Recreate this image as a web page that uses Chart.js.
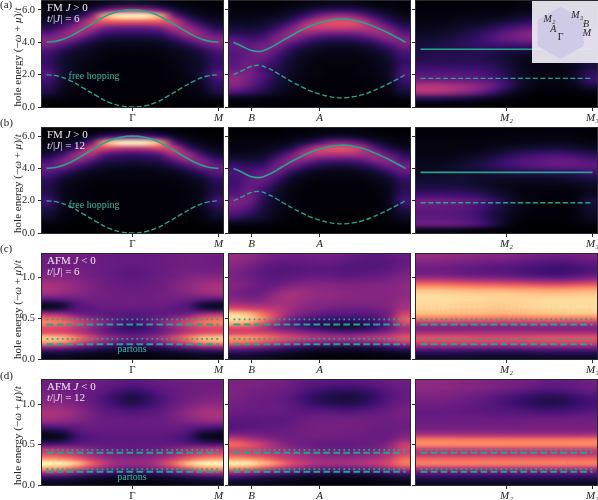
<!DOCTYPE html>
<html>
<head>
<meta charset="utf-8">
<style>
  html, body { margin: 0; padding: 0; background: #fff; }
  #fig { position: relative; width: 598px; height: 500px; overflow: hidden; }
  #fig canvas { position: absolute; }
</style>
<script src="https://cdn.jsdelivr.net/npm/chart.js@4"></script>
</head>
<body>
<div id="fig"></div>
<script>
// heat values are percent of the magma range, each inner array is one column, top cell first
const fmA1 = [
  [1,2,4,8,14,26,38,35,24,19,18,21,27,20,16,12,4,0],
  [1,3,6,13,25,38,40,26,14,10,9,9,10,8,6,4,2,0],
  [2,5,12,28,42,47,30,15,8,6,5,5,4,3,2,2,1,0],
  [3,11,32,56,50,33,17,8,5,4,3,2,2,2,1,1,1,0],
  [6,28,82,64,36,20,10,5,3,2,1,1,1,1,1,1,1,0],
  [9,42,98,65,32,18,9,4,2,1,1,1,1,1,1,1,1,0],
  [10,45,100,65,32,18,8,4,2,1,1,1,1,1,1,1,1,0],
  [9,42,98,65,32,18,9,4,2,1,1,1,1,1,1,1,1,0],
  [6,28,82,64,36,20,10,5,3,2,1,1,1,1,1,1,1,0],
  [3,11,32,56,50,33,17,8,5,4,3,2,2,2,1,1,1,0],
  [2,5,12,28,42,47,30,15,8,6,5,5,4,3,2,2,1,0],
  [1,3,6,13,25,38,40,26,14,10,9,9,10,8,6,4,2,0],
  [1,2,4,8,14,26,38,35,24,19,18,21,27,20,16,12,4,0]
];
const fmA2 = [
  [1,2,3,6,10,16,26,30,27,26,27,30,38,40,36,24,4,1],
  [1,2,3,5,9,14,22,28,30,31,33,34,34,33,28,18,4,1],
  [1,2,4,7,11,17,25,33,36,32,25,22,24,22,18,12,3,1],
  [1,3,6,11,19,31,38,36,27,20,16,14,13,11,9,6,2,0],
  [2,5,10,20,35,43,38,23,14,10,8,7,6,5,4,3,1,0],
  [3,9,20,40,52,42,26,14,8,5,4,3,3,2,2,1,1,0],
  [4,14,34,56,55,35,18,9,5,3,2,2,2,1,1,1,0,0],
  [5,17,42,62,55,33,16,7,4,2,2,1,1,1,1,1,0,0],
  [5,17,42,62,55,33,16,7,4,2,2,1,1,1,1,1,0,0],
  [4,13,32,55,52,35,19,9,5,3,2,2,2,1,1,1,0,0],
  [2,8,18,34,46,43,27,14,8,5,4,3,3,2,2,1,1,0],
  [2,4,9,18,32,42,38,24,14,10,8,7,7,6,4,3,1,0],
  [1,2,5,9,17,27,36,34,25,20,18,21,24,20,15,10,3,0]
];
const fmA3 = [
  [1,1,2,3,4,6,9,11,12,13,16,22,27,34,50,48,16,1],
  [1,1,2,3,5,7,10,12,13,14,16,21,27,34,50,47,16,1],
  [1,1,2,4,6,9,12,14,14,14,16,21,27,33,48,44,14,1],
  [1,1,3,5,8,12,15,16,14,14,16,20,26,32,44,39,12,1],
  [1,2,3,6,11,16,19,18,15,14,16,20,25,30,39,32,9,1],
  [1,2,4,8,15,22,25,20,14,12,14,17,21,26,31,22,6,0],
  [1,2,5,11,20,30,30,21,12,9,10,12,14,18,19,10,3,0],
  [2,3,7,14,25,35,34,22,11,6,5,6,7,9,8,4,1,0],
  [2,3,8,17,28,38,36,22,11,5,3,3,4,4,3,1,0,0],
  [2,3,8,17,28,38,36,22,12,6,3,3,3,3,2,1,0,0],
  [1,3,7,14,25,35,34,22,13,7,4,3,3,3,2,1,0,0],
  [1,2,5,11,20,30,32,24,16,10,7,6,8,8,4,1,0,0],
  [1,2,4,8,15,25,30,25,18,14,12,13,18,20,10,3,0,0]
];
const fmB1 = [
  [0,1,2,5,10,20,30,28,19,14,13,15,21,15,10,7,2,0],
  [0,1,4,9,20,35,36,20,10,6,5,5,6,5,3,2,1,0],
  [1,3,8,22,44,42,24,11,5,3,2,2,2,2,1,1,0,0],
  [1,7,26,56,48,28,14,6,3,2,1,1,1,1,1,1,0,0],
  [2,20,80,58,28,15,8,4,2,1,1,1,1,1,1,1,0,0],
  [4,28,98,52,22,13,7,3,2,1,1,1,1,1,1,1,1,0],
  [4,30,100,50,20,12,6,3,2,1,1,1,1,1,1,1,1,0],
  [4,28,98,52,22,13,7,3,2,1,1,1,1,1,1,1,1,0],
  [2,20,80,58,28,15,8,4,2,1,1,1,1,1,1,1,0,0],
  [1,7,26,56,48,28,14,6,3,2,1,1,1,1,1,1,0,0],
  [1,3,8,22,44,42,24,11,5,3,2,2,2,2,1,1,0,0],
  [0,1,4,9,20,35,36,20,10,6,5,5,6,5,3,2,1,0],
  [0,1,2,5,10,20,30,28,19,14,13,15,21,15,10,7,2,0]
];
const fmB2 = [
  [0,1,2,3,6,11,20,24,22,21,23,27,36,33,26,16,3,0],
  [0,1,2,3,6,10,17,24,27,29,31,33,32,26,19,11,3,0],
  [0,1,2,4,7,12,20,29,32,28,21,17,14,12,10,7,2,0],
  [0,1,3,7,15,27,34,33,22,14,9,7,6,5,4,3,1,0],
  [1,2,6,15,32,40,33,17,8,5,3,2,2,2,1,1,1,0],
  [1,3,12,36,50,38,20,8,4,2,1,1,1,1,1,1,0,0],
  [2,6,24,56,50,28,13,5,2,1,1,1,1,1,1,0,0,0],
  [2,9,36,62,48,26,11,4,2,1,1,1,1,1,0,0,0,0],
  [2,9,36,62,48,26,11,4,2,1,1,1,1,1,0,0,0,0],
  [2,6,26,52,46,28,14,6,3,1,1,1,1,1,0,0,0,0],
  [1,3,12,28,42,38,22,10,5,3,2,1,1,1,1,1,0,0],
  [0,2,5,13,28,38,33,19,10,6,5,5,5,4,3,2,1,0],
  [0,1,3,7,15,24,33,30,20,15,15,18,22,16,10,6,2,0]
];
const fmB3 = [
  [1,1,2,2,3,4,5,6,8,10,14,22,33,30,28,29,31,4],
  [1,1,2,2,3,4,6,7,8,10,14,22,33,30,28,29,32,4],
  [1,1,2,2,3,5,7,8,9,10,14,21,32,29,27,28,31,4],
  [1,1,2,3,4,7,9,9,9,9,13,20,30,27,25,26,29,3],
  [1,1,2,3,6,10,12,10,8,8,11,17,26,23,20,21,24,2],
  [1,1,3,5,9,14,16,12,8,6,8,12,19,16,13,13,14,1],
  [1,2,3,7,13,20,20,14,8,5,5,7,11,9,7,6,5,0],
  [1,2,4,9,17,24,24,15,8,4,3,3,5,4,3,2,1,0],
  [1,2,4,10,20,27,27,16,8,4,2,2,2,2,1,1,0,0],
  [1,2,5,11,22,29,29,17,8,4,2,1,1,1,1,1,0,0],
  [1,2,5,11,22,30,30,18,9,5,2,1,1,1,1,1,0,0],
  [1,2,4,9,19,28,30,19,11,6,3,2,3,3,2,2,1,0],
  [1,1,3,7,15,24,29,21,14,8,5,6,11,9,7,6,2,0]
];
const afmC1 = [
  [32,32,32,34,37,42,46,47,42,26,7,10,44,68,74,60,62,88,80,42,14,5],
  [33,33,33,34,37,41,44,44,40,28,11,14,40,63,70,58,60,85,76,40,13,5],
  [33,33,33,34,36,38,40,40,37,32,26,26,32,50,60,50,52,72,62,32,11,4],
  [32,32,32,33,33,35,36,36,35,33,30,28,30,40,48,40,42,58,50,25,9,3],
  [31,31,31,31,31,32,32,33,34,33,32,30,28,33,36,30,32,44,38,18,7,3],
  [30,30,30,29,29,30,31,32,32,32,32,30,27,28,26,22,26,36,30,14,5,2],
  [30,30,29,28,28,29,30,31,32,33,32,30,26,25,21,18,24,32,27,12,4,2],
  [30,30,30,29,29,30,31,32,32,32,32,30,27,28,26,22,26,36,30,14,5,2],
  [31,31,31,31,31,32,32,33,34,33,32,30,28,33,36,30,32,44,38,18,7,3],
  [32,32,32,33,33,35,36,36,35,33,30,28,30,40,48,40,42,58,50,25,9,3],
  [33,33,33,34,36,38,40,40,37,32,26,26,32,50,60,50,52,72,62,32,11,4],
  [33,33,33,34,37,41,44,44,40,28,11,14,40,63,70,58,60,85,76,40,13,5],
  [32,32,32,34,37,42,46,47,42,26,7,10,44,68,74,60,62,88,80,42,14,5]
];
const afmC2 = [
  [42,40,38,36,35,36,37,36,35,38,46,62,90,94,84,60,58,78,70,40,18,8],
  [40,37,34,32,32,33,34,32,32,36,44,58,84,90,78,58,58,78,68,38,17,7],
  [36,33,30,28,28,29,30,31,34,38,44,54,68,74,62,48,56,72,62,34,14,6],
  [33,30,27,26,27,29,32,37,42,44,46,50,54,52,42,36,50,64,55,28,11,4],
  [32,30,27,26,28,31,36,42,46,46,44,43,40,34,28,30,44,58,48,22,8,3],
  [32,30,28,27,29,33,38,42,43,42,40,38,34,26,20,24,38,52,42,17,6,2],
  [33,31,29,28,30,34,38,40,41,40,38,35,30,23,16,18,34,48,38,14,4,1],
  [33,31,28,27,29,33,37,39,40,39,37,33,28,21,14,14,30,46,36,13,4,1],
  [31,28,26,26,28,32,36,38,39,38,36,32,28,20,13,12,28,45,35,13,3,1],
  [29,27,26,26,29,33,36,38,38,38,36,32,28,21,14,14,30,47,37,14,4,1],
  [28,26,26,27,30,33,37,38,38,37,36,33,29,24,20,20,34,50,40,16,5,2],
  [29,27,27,29,32,35,37,38,38,38,38,36,34,35,30,30,40,55,46,20,7,2],
  [31,30,31,33,36,38,40,40,40,42,44,47,56,64,58,44,50,62,54,26,9,3]
];
const afmC3 = [
  [42,38,34,32,36,52,72,86,92,93,92,90,86,72,50,36,46,62,58,38,18,8],
  [42,38,34,32,36,52,72,86,92,93,92,90,86,72,50,36,46,62,58,38,18,8],
  [41,37,33,31,35,50,71,85,91,93,92,90,86,72,50,36,46,62,58,38,18,8],
  [40,35,31,29,33,48,69,84,91,92,91,89,85,71,50,36,46,61,57,37,17,8],
  [39,34,30,28,32,46,68,83,90,92,91,89,85,71,50,36,46,60,57,36,16,7],
  [38,33,29,27,31,45,67,83,90,91,90,88,84,70,50,36,46,60,56,36,16,7],
  [38,32,28,26,30,44,66,82,90,91,90,88,84,70,50,36,46,60,56,36,16,7],
  [36,30,26,24,28,42,65,81,89,91,91,89,85,70,50,36,46,60,56,36,16,7],
  [34,28,24,22,26,40,63,81,88,91,92,90,86,71,50,36,46,61,57,37,17,7],
  [33,27,23,20,24,39,62,80,88,92,93,91,87,72,50,36,46,62,58,38,18,8],
  [32,26,22,20,24,38,62,80,88,92,93,92,88,72,50,36,46,62,58,38,18,8],
  [33,28,24,22,27,41,64,81,89,92,93,92,88,72,50,36,46,62,58,38,18,8],
  [35,30,27,25,30,44,66,82,89,92,93,92,88,72,50,36,46,62,58,38,18,8]
];
const afmD1 = [
  [33,33,34,36,38,42,46,47,42,30,14,4,7,24,50,60,78,100,80,45,16,6],
  [33,33,33,35,37,41,45,45,41,31,18,7,10,25,48,56,74,98,76,42,15,6],
  [33,32,32,33,34,37,40,40,37,31,27,22,22,28,44,50,66,88,64,34,12,5],
  [32,31,30,30,30,32,34,35,34,32,30,27,26,29,38,42,54,68,50,26,9,4],
  [31,29,27,24,24,26,28,30,31,31,30,29,28,29,33,37,44,52,40,20,7,3],
  [29,26,21,17,17,21,26,29,31,31,30,29,28,29,31,34,39,43,34,17,6,2],
  [27,23,17,12,12,18,24,28,30,31,30,29,28,29,30,33,38,42,33,16,6,2],
  [29,26,21,17,17,21,26,29,31,31,30,29,28,29,31,34,39,43,34,17,6,2],
  [31,29,27,24,24,26,28,30,31,31,30,29,28,29,33,37,44,52,40,20,7,3],
  [32,31,30,30,30,32,34,35,34,32,30,27,26,29,38,42,54,68,50,26,9,4],
  [33,32,32,33,34,37,40,40,37,31,27,22,22,28,44,50,66,88,64,34,12,5],
  [33,33,33,35,37,41,45,45,41,31,18,7,10,25,48,56,74,98,76,42,15,6],
  [33,33,34,36,38,42,46,47,42,30,14,4,7,24,50,60,78,100,80,45,16,6]
];
const afmD2 = [
  [36,36,36,35,34,33,32,30,28,26,28,38,56,68,60,62,78,98,76,42,18,7],
  [36,35,34,33,32,32,31,29,27,27,30,36,48,62,58,58,76,96,72,38,15,6],
  [35,34,33,32,31,31,31,29,28,28,30,33,42,52,52,54,70,86,62,32,12,5],
  [34,33,32,31,30,31,30,29,28,29,30,32,36,42,46,50,60,74,52,27,10,4],
  [32,31,29,27,27,28,29,29,29,30,31,32,33,35,40,46,52,60,44,23,8,3],
  [29,27,24,21,21,24,27,30,32,33,33,33,32,32,36,42,46,52,38,18,6,2],
  [27,24,19,15,15,20,26,31,33,34,34,34,32,30,33,38,42,46,33,15,5,1],
  [27,22,16,13,13,18,25,31,33,34,34,33,31,30,32,36,41,46,32,14,4,1],
  [27,21,15,11,12,17,24,30,33,34,33,33,31,30,31,36,41,46,32,14,4,1],
  [27,22,16,13,14,19,26,31,33,33,33,32,31,31,33,36,43,48,34,15,5,1],
  [29,26,21,19,20,24,28,31,32,32,31,31,31,32,35,40,46,52,37,17,6,2],
  [31,29,27,26,27,29,31,32,32,32,31,31,33,38,42,48,54,60,44,21,8,3],
  [33,31,30,30,31,33,34,34,33,32,33,36,42,54,56,56,68,72,54,26,10,4]
];
const afmD3 = [
  [40,40,38,36,34,32,30,30,32,33,36,48,72,76,56,50,66,74,50,28,15,7],
  [40,40,38,36,34,32,30,30,32,33,36,48,72,76,56,50,66,74,50,28,15,7],
  [39,39,37,35,33,31,30,30,32,33,36,48,72,76,56,50,66,74,50,28,15,7],
  [38,38,36,33,31,30,29,30,32,33,36,47,71,76,56,50,66,74,50,28,15,7],
  [37,37,34,31,29,28,28,30,32,33,36,47,71,76,56,50,66,74,50,28,15,7],
  [36,36,32,28,26,26,27,29,32,33,36,47,71,76,56,50,66,74,50,28,15,7],
  [35,34,30,25,23,24,26,29,32,33,36,47,70,76,56,50,66,74,50,28,15,7],
  [34,32,27,21,19,21,25,28,32,33,36,46,70,76,56,50,66,74,50,28,15,7],
  [32,30,24,18,15,18,23,28,33,34,36,46,70,76,56,50,66,74,50,28,15,7],
  [30,28,22,15,13,16,22,28,33,34,36,46,70,76,56,50,66,74,50,28,15,7],
  [30,28,23,16,14,17,23,28,33,34,36,46,70,76,56,50,66,74,50,28,15,7],
  [31,30,26,20,18,20,24,29,33,34,36,46,71,76,56,50,66,74,50,28,15,7],
  [33,32,29,24,22,23,26,30,33,34,36,47,71,76,56,50,66,74,50,28,15,7]
];

// band curves along each path
const gmX = [0,.07,.14,.21,.29,.36,.43,.5,.57,.64,.71,.79,.86,.93,1];
const bandUpperGM = [4,4.1,4.38,4.8,5.3,5.7,5.93,6,5.93,5.7,5.3,4.8,4.38,4.1,4];
const bandLowerGM = [2,1.9,1.62,1.2,.7,.3,.07,0,.07,.3,.7,1.2,1.62,1.9,2];
const baX = [0,.05,.1,.15,.2,.25,.3,.35,.4,.45,.5,.55,.6,.65,.7,.75,.8,.85,.9,.95,1];
const baUpper = [4,3.76,3.5,3.43,3.6,3.88,4.2,4.5,4.77,5.02,5.2,5.34,5.42,5.43,5.36,5.24,5.05,4.82,4.57,4.29,4];
const baLower = [2,2.24,2.5,2.57,2.4,2.12,1.8,1.5,1.23,.98,.8,.66,.58,.57,.64,.76,.95,1.18,1.43,1.71,2];
const flatX = [0,1];
const flatUpperA = [3.57,3.57];
const flatLowerA = [1.77,1.77];
const flatUpperB = [3.75,3.75];
const flatLowerB = [1.87,1.87];

// parton levels
const cDashed = [.18,.425];
const cDotted = [.247,.487];
const dDashed = [.165,.40];
const dDotted = [.197,.435];

const fmTicks = [0,2,4,6];
const afmTicks = [0,.5,1];
const xTicksByCol = [[.5,1],[.105,.5],[.5,1]];
const xLabelsByCol = [['Γ','M'],['B','A'],['M₂','M₃']];

// brillouin zone inset
const hexX = [0,.866,.866,0,-.866,-.866,0];
const hexY = [1,.5,-.5,-1,-.5,.5,1];
const zoneRowY = [.73,.37,0,-.37,-.75];
const zoneRowHalf = [.47,.866,.866,.866,.43];
const zoneLabels = ['M₂','M₃','B','M','A','Γ'];
const zoneLabelX = [-.42,.63,.97,1.0,-.28,0];
const zoneLabelY = [.52,.67,.33,-.01,.15,-.18];
const zoneDotX = [-.27,.43,.84,.84,-.27,0];
const zoneDotY = [.73,.73,.37,0,.37,0];

const magma = [[0,0,4],[20,14,54],[59,15,112],[100,26,128],[140,41,129],[183,55,121],[222,73,104],[247,112,92],[254,159,109],[254,207,146],[252,253,191]];
const serif = '"Liberation Serif", "Times New Roman", serif';
const teal = '#27a589';
const noteTeal = '#3dbb9f';

function magmaColor(pct) {
  const t = Math.min(Math.max(pct, 0), 100) / 10;
  const i = Math.min(Math.floor(t), 9), f = t - i;
  return magma[i].map((c, k) => Math.round(c + (magma[i + 1][k] - c) * f));
}

// '*' switches italics on and off
function richText(ctx, text, x, y, size, color, align) {
  const runs = text.split('*');
  let total = 0;
  const fontOf = i => (i % 2 ? 'italic ' : '') + size + 'px ' + serif;
  runs.forEach((r, i) => { ctx.font = fontOf(i); total += ctx.measureText(r).width; });
  let px = align === 'center' ? x - total / 2 : x;
  ctx.textAlign = 'left';
  ctx.textBaseline = 'middle';
  ctx.fillStyle = color;
  runs.forEach((r, i) => {
    ctx.font = fontOf(i);
    ctx.fillText(r, px, y);
    px += ctx.measureText(r).width;
  });
}

function heatPlugin(cells) {
  const nx = cells.length, ny = cells[0].length;
  const off = document.createElement('canvas');
  off.width = nx; off.height = ny;
  const octx = off.getContext('2d');
  const img = octx.createImageData(nx, ny);
  cells.forEach((col, c) => col.forEach((v, r) => {
    const rgb = magmaColor(v), p = (r * nx + c) * 4;
    img.data[p] = rgb[0]; img.data[p + 1] = rgb[1]; img.data[p + 2] = rgb[2]; img.data[p + 3] = 255;
  }));
  octx.putImageData(img, 0, 0);
  return {
    id: 'heat',
    beforeDatasetsDraw(chart) {
      const { ctx, scales: { x, y } } = chart;
      const x0 = x.getPixelForValue(x.min), x1 = x.getPixelForValue(x.max);
      const y0 = y.getPixelForValue(y.max), y1 = y.getPixelForValue(y.min);
      ctx.save();
      ctx.imageSmoothingEnabled = true;
      ctx.imageSmoothingQuality = 'high';
      ctx.drawImage(off, x0, y0, x1 - x0, y1 - y0);
      ctx.restore();
    }
  };
}

function framePlugin(notes) {
  return {
    id: 'frame',
    afterDraw(chart) {
      const { ctx, chartArea: a } = chart;
      ctx.save();
      ctx.strokeStyle = '#2a2a2a';
      ctx.lineWidth = 1;
      ctx.strokeRect(a.left - .5, a.top - .5, a.right - a.left + 1, a.bottom - a.top + 1);
      notes.forEach(n => {
        if (n.rotate) {
          ctx.save();
          ctx.translate(n.x, (a.top + a.bottom) / 2 + n.y);
          ctx.rotate(-Math.PI / 2);
          richText(ctx, n.text, 0, 0, n.size, n.color, 'center');
          ctx.restore();
        } else {
          richText(ctx, n.text, n.x, a.top + n.y, n.size, n.color, n.align);
        }
      });
      ctx.restore();
    }
  };
}

const fig = document.getElementById('fig');

function addCanvas(left, top, w, h) {
  const cv = document.createElement('canvas');
  cv.width = w; cv.height = h;
  cv.style.left = left + 'px';
  cv.style.top = top + 'px';
  fig.appendChild(cv);
  return cv;
}

function lineSet(xs, ys, dash, width) {
  return {
    data: xs.map((x, i) => ({ x: x, y: ys[i] })),
    showLine: true, pointRadius: 0, borderColor: teal, borderWidth: width,
    borderDash: dash, tension: .4, borderCapStyle: 'butt'
  };
}

const colLeft = [42, 229, 416];
const colWidth = 181;
const gutter = [42, 6, 6];
const padTop = 10, axisH = 18;

function panel(col, top, height, yMax, yTicks, cells, sets, notes) {
  const cv = addCanvas(colLeft[col] - gutter[col], top - padTop, gutter[col] + colWidth + 12, padTop + height + axisH);
  new Chart(cv, {
    type: 'scatter',
    data: { datasets: sets },
    plugins: [heatPlugin(cells), framePlugin(notes)],
    options: {
      responsive: false,
      animation: false,
      devicePixelRatio: 1,
      layout: { padding: { top: padTop, right: 12, left: 0, bottom: 0 } },
      plugins: { legend: { display: false }, tooltip: { enabled: false } },
      scales: {
        x: {
          type: 'linear', min: -.026, max: 1.026,
          afterBuildTicks: s => { s.ticks = xTicksByCol[col].map(v => ({ value: v })); },
          afterFit: s => { s.height = axisH; s.paddingLeft = 0; s.paddingRight = 0; },
          border: { display: false },
          grid: { drawOnChartArea: false, tickLength: 4, color: '#2a2a2a', tickWidth: 1 },
          ticks: {
            autoSkip: false, maxRotation: 0, padding: 1, color: '#222',
            callback: (v, i) => xLabelsByCol[col][i],
            font: c => ({ family: serif, size: 11, style: c.tick && c.tick.label === 'Γ' ? 'normal' : 'italic' })
          }
        },
        y: {
          type: 'linear', min: 0, max: yMax,
          afterBuildTicks: s => { s.ticks = yTicks.map(v => ({ value: v })); },
          afterFit: s => { s.width = gutter[col]; s.paddingTop = 0; s.paddingBottom = 0; },
          border: { display: false },
          grid: { drawOnChartArea: false, tickLength: 4, color: '#2a2a2a', tickWidth: 1 },
          ticks: {
            display: col === 0, padding: 3, color: '#222',
            callback: v => v.toFixed(1),
            font: { family: serif, size: 10.5 }
          }
        }
      }
    }
  });
}

const yTitle = { text: 'hole energy (−*ω* + *μ*)/*t*', rotate: true, x: 18, y: 3, size: 11, color: '#222' };

function leftNotes(tag, line1, line2, tagY, extra) {
  return [
    { text: tag, x: 0, y: tagY, size: 11, color: '#222' },
    yTitle,
    { text: line1, x: 47, y: 7, size: 11, color: '#f2e9f2' },
    { text: line2, x: 47, y: 18, size: 11, color: '#f2e9f2' },
    extra
  ];
}

function fmRow(top, height, yMax, tag, tagY, line2, cells, flatU, flatL, noteY) {
  const hop = { text: 'free hopping', x: 94, y: noteY, size: 10, color: noteTeal, align: 'center' };
  panel(0, top, height, yMax, fmTicks, cells[0],
    [lineSet(gmX, bandUpperGM, [], 1.6), lineSet(gmX, bandLowerGM, [5, 2.5], 1.4)],
    leftNotes(tag, 'FM *J* > 0', line2, tagY, hop));
  panel(1, top, height, yMax, fmTicks, cells[1],
    [lineSet(baX, baUpper, [], 1.6), lineSet(baX, baLower, [5, 2.5], 1.4)], []);
  panel(2, top, height, yMax, fmTicks, cells[2],
    [lineSet(flatX, flatU, [], 1.6), lineSet(flatX, flatL, [5, 2.5], 1.4)], []);
}

function afmRow(top, height, yMax, tag, tagY, line2, cells, dashed, dotted, noteY) {
  const sets = () => dotted.map(v => lineSet(flatX, [v, v], [1.7, 3.3], 1.8))
    .concat(dashed.map(v => lineSet(flatX, [v, v], [6.7, 3.3], 2)));
  const par = { text: 'partons', x: 132, y: noteY, size: 10, color: noteTeal, align: 'center' };
  panel(0, top, height, yMax, afmTicks, cells[0], sets(), leftNotes(tag, 'AFM *J* < 0', line2, tagY, par));
  panel(1, top, height, yMax, afmTicks, cells[1], sets(), []);
  panel(2, top, height, yMax, afmTicks, cells[2], sets(), []);
}

fmRow(1, 106, 6.55, '(a)', 4, '*t*/|*J*| = 6', [fmA1, fmA2, fmA3], flatUpperA, flatLowerA, 75);
fmRow(128, 105, 6.5, '(b)', -5, '*t*/|*J*| = 12', [fmB1, fmB2, fmB3], flatUpperB, flatLowerB, 77);
afmRow(254, 105, 1.29, '(c)', -5, '*t*/|*J*| = 6', [afmC1, afmC2, afmC3], cDashed, cDotted, 95);
afmRow(380, 105, 1.3, '(d)', -4, '*t*/|*J*| = 12', [afmD1, afmD2, afmD3], dDashed, dDotted, 97);

// inset sits over the top right panel
const insetSets = [{
  data: hexX.map((x, i) => ({ x: x, y: hexY[i] })),
  showLine: true, fill: 'shape', pointRadius: 0, borderWidth: 0,
  backgroundColor: '#cfcbe6'
}].concat(zoneRowY.map((y, i) => ({
  data: [{ x: -zoneRowHalf[i], y: y }, { x: zoneRowHalf[i], y: y }],
  showLine: true, pointRadius: 0, borderColor: '#7f76bf', borderWidth: 1, borderDash: [1.2, 1.8]
}))).concat([{
  data: zoneDotX.map((x, i) => ({ x: x, y: zoneDotY[i] })),
  showLine: false, pointRadius: .9, pointBorderWidth: 0, pointBackgroundColor: '#333'
}]);

new Chart(addCanvas(532, 1, 66, 62), {
  type: 'scatter',
  data: { datasets: insetSets },
  plugins: [{
    id: 'zone',
    beforeDraw(chart) {
      chart.ctx.fillStyle = 'rgba(240,238,246,.92)';
      chart.ctx.fillRect(0, 0, chart.width, chart.height);
    },
    afterDraw(chart) {
      const { ctx, scales: { x, y } } = chart;
      zoneLabels.forEach((t, i) => {
        const mark = t === 'Γ' ? t : '*' + t + '*';
        richText(ctx, mark, x.getPixelForValue(zoneLabelX[i]), y.getPixelForValue(zoneLabelY[i]), 10, '#222', 'center');
      });
    }
  }],
  options: {
    responsive: false, animation: false, devicePixelRatio: 1,
    plugins: { legend: { display: false }, tooltip: { enabled: false } },
    scales: {
      x: { type: 'linear', min: -.933, max: 1.267, display: false },
      y: { type: 'linear', min: -1, max: 1.07, display: false }
    }
  }
});
</script>
</body>
</html>
